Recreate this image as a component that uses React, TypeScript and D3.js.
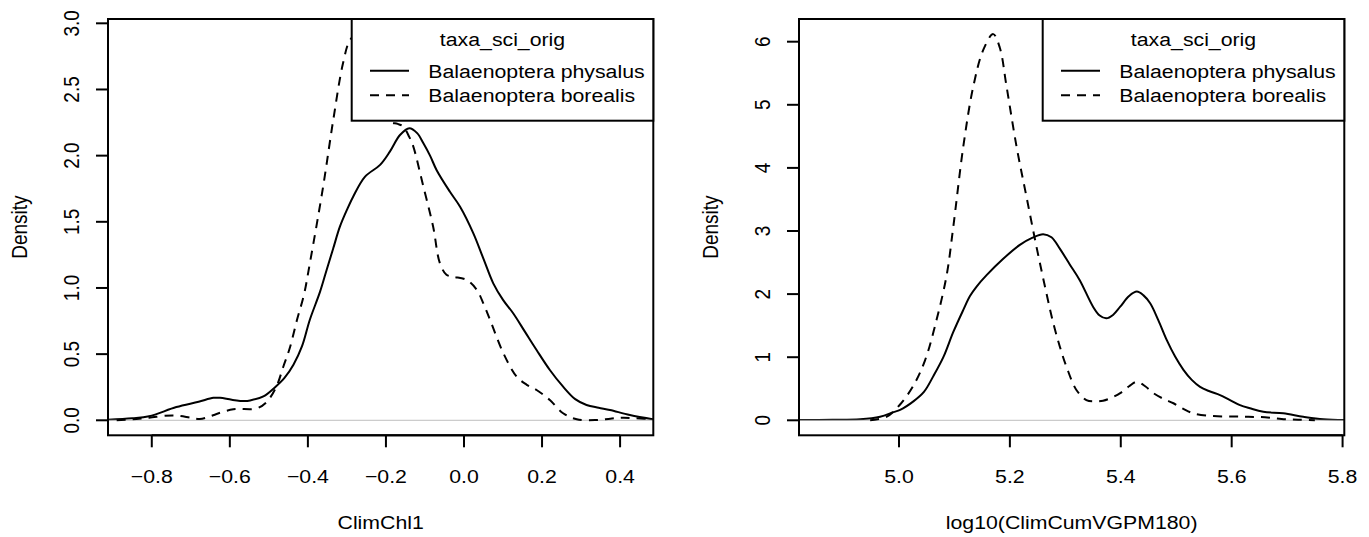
import React from "react";
import * as d3 from "d3";

// ---------- DATA ----------
const legendTitle = "taxa_sci_orig";
const seriesNames = ["Balaenoptera physalus", "Balaenoptera borealis"];

// Panel 1: ClimChl1
const chlPhysalusX = [-0.912, -0.85, -0.807, -0.737, -0.68, -0.642, -0.625, -0.595, -0.561, -0.548, -0.514, -0.484, -0.46, -0.437, -0.415, -0.395, -0.369, -0.352, -0.335, -0.318, -0.3, -0.284, -0.254, -0.215, -0.19, -0.164, -0.14, -0.12, -0.104, -0.087, -0.07, -0.036, -0.01, 0.024, 0.05, 0.075, 0.1, 0.126, 0.156, 0.186, 0.22, 0.254, 0.285, 0.314, 0.345, 0.374, 0.425, 0.49];
const chlPhysalusY = [0.005, 0.015, 0.03, 0.1, 0.14, 0.17, 0.17, 0.155, 0.145, 0.15, 0.18, 0.25, 0.32, 0.42, 0.56, 0.76, 0.97, 1.136, 1.3, 1.463, 1.59, 1.69, 1.84, 1.93, 2.03, 2.156, 2.207, 2.17, 2.093, 2.0, 1.89, 1.727, 1.614, 1.413, 1.22, 1.035, 0.91, 0.809, 0.67, 0.531, 0.38, 0.254, 0.16, 0.116, 0.095, 0.078, 0.04, 0.005];
const chlBorealisX = [-0.89, -0.85, -0.807, -0.745, -0.7, -0.677, -0.655, -0.634, -0.591, -0.531, -0.505, -0.48, -0.463, -0.446, -0.428, -0.41, -0.395, -0.361, -0.335, -0.31, -0.292, -0.27, -0.25, -0.23, -0.21, -0.19, -0.17, -0.156, -0.14, -0.13, -0.104, -0.079, -0.062, -0.045, -0.027, 0.007, 0.033, 0.05, 0.067, 0.101, 0.135, 0.16, 0.186, 0.22, 0.254, 0.289, 0.34, 0.375, 0.408, 0.44, 0.49];
const chlBorealisY = [0.0, 0.008, 0.02, 0.037, 0.02, 0.01, 0.025, 0.048, 0.083, 0.09, 0.14, 0.26, 0.405, 0.55, 0.758, 0.95, 1.186, 1.765, 2.27, 2.698, 2.874, 2.93, 2.9, 2.74, 2.48, 2.26, 2.24, 2.22, 2.14, 2.07, 1.765, 1.463, 1.19, 1.1, 1.085, 1.06, 0.985, 0.88, 0.758, 0.506, 0.33, 0.27, 0.229, 0.153, 0.053, 0.008, 0.002, 0.012, 0.02, 0.015, 0.008];
const chlXTicks = [-0.8, -0.6, -0.4, -0.2, 0.0, 0.2, 0.4];
const chlXTickLabels = ["\u22120.8", "\u22120.6", "\u22120.4", "\u22120.2", "0.0", "0.2", "0.4"];
const chlYTicks = [0, 0.5, 1.0, 1.5, 2.0, 2.5, 3.0];
const chlYTickLabels = ["0.0", "0.5", "1.0", "1.5", "2.0", "2.5", "3.0"];
const chlXLabel = "ClimChl1";

// Panel 2: log10(ClimCumVGPM180)
const vgpmPhysalusX = [4.82, 4.88, 4.93, 4.966, 4.99, 5.002, 5.026, 5.045, 5.062, 5.08, 5.098, 5.116, 5.128, 5.14, 5.158, 5.188, 5.218, 5.24, 5.26, 5.275, 5.29, 5.308, 5.326, 5.35, 5.362, 5.374, 5.386, 5.399, 5.415, 5.429, 5.441, 5.453, 5.468, 5.483, 5.498, 5.513, 5.528, 5.543, 5.56, 5.579, 5.597, 5.615, 5.633, 5.657, 5.693, 5.729, 5.765, 5.81];
const vgpmPhysalusY = [0.005, 0.008, 0.016, 0.057, 0.13, 0.165, 0.3, 0.45, 0.7, 1.0, 1.4, 1.75, 1.97, 2.12, 2.3, 2.56, 2.78, 2.89, 2.95, 2.9, 2.72, 2.47, 2.22, 1.8, 1.66, 1.616, 1.67, 1.8, 1.97, 2.04, 1.98, 1.854, 1.58, 1.27, 1.01, 0.8, 0.64, 0.53, 0.46, 0.4, 0.32, 0.24, 0.19, 0.136, 0.11, 0.057, 0.016, 0.003];
const vgpmBorealisX = [4.948, 4.978, 5.002, 5.026, 5.047, 5.068, 5.086, 5.098, 5.116, 5.134, 5.152, 5.17, 5.182, 5.194, 5.212, 5.23, 5.248, 5.266, 5.278, 5.29, 5.302, 5.32, 5.338, 5.353, 5.368, 5.384, 5.399, 5.415, 5.429, 5.444, 5.459, 5.477, 5.495, 5.513, 5.531, 5.567, 5.603, 5.63, 5.66, 5.69, 5.72, 5.75];
const vgpmBorealisY = [0.0, 0.057, 0.25, 0.55, 0.95, 1.6, 2.3, 3.07, 4.34, 5.29, 5.87, 6.12, 5.9, 5.29, 4.34, 3.54, 2.75, 2.01, 1.55, 1.17, 0.85, 0.48, 0.32, 0.3, 0.31, 0.36, 0.43, 0.54, 0.61, 0.54, 0.43, 0.34, 0.27, 0.18, 0.11, 0.068, 0.06, 0.055, 0.05, 0.02, 0.01, 0.0];
const vgpmXTicks = [5.0, 5.2, 5.4, 5.6, 5.8];
const vgpmXTickLabels = ["5.0", "5.2", "5.4", "5.6", "5.8"];
const vgpmYTicks = [0, 1, 2, 3, 4, 5, 6];
const vgpmYTickLabels = ["0", "1", "2", "3", "4", "5", "6"];
const vgpmXLabel = "log10(ClimCumVGPM180)";

const yLabel = "Density";

// ---------- STYLE ----------
const FONT = "'Liberation Sans', Arial, Helvetica, sans-serif";
const FS = 19;
const SX = 1.12;
const LW = 2;
const DASH = "9 7";

type PanelProps = {
  id: string;
  left: number;
  right: number;
  xDomain: [number, number];
  yDomain: [number, number];
  solidX: number[];
  solidY: number[];
  dashX: number[];
  dashY: number[];
  xTicks: number[];
  xTickLabels: string[];
  yTicks: number[];
  yTickLabels: string[];
  xLabel: string;
};

const TOP = 19;
const BOTTOM = 435.3;

function T({ x, y, rot, anchor, children }: { x: number; y: number; rot?: boolean; anchor?: string; children: React.ReactNode }) {
  return (
    <text
      transform={`translate(${x},${y}) scale(${SX},1)${rot ? " rotate(-90)" : ""}`}
      textAnchor={anchor || "middle"}
      fontFamily={FONT}
      fontSize={FS}
      fill="#000"
    >
      {children}
    </text>
  );
}

function Panel(p: PanelProps) {
  const x = d3.scaleLinear().domain(p.xDomain).range([p.left, p.right]);
  const y = d3.scaleLinear().domain(p.yDomain).range([BOTTOM, TOP]);
  const line = d3
    .line<[number, number]>()
    .x((d) => x(d[0]))
    .y((d) => y(d[1]))
    .curve(d3.curveCatmullRom.alpha(0.5));
  const solid = line(p.solidX.map((v, i) => [v, p.solidY[i]]) as [number, number][]) || "";
  const dashed = line(p.dashX.map((v, i) => [v, p.dashY[i]]) as [number, number][]) || "";
  const clipId = `clip-${p.id}`;
  const lgLeft = p.right - 301.6;
  const lgBottom = 120.7;
  const cx = (p.left + p.right) / 2;
  const cy = (TOP + BOTTOM) / 2;
  return (
    <g>
      <defs>
        <clipPath id={clipId}>
          <rect x={p.left} y={TOP} width={p.right - p.left} height={BOTTOM - TOP} />
        </clipPath>
      </defs>
      <g clipPath={`url(#${clipId})`}>
        <path d={solid} fill="none" stroke="#000" strokeWidth={LW} />
        <line x1={p.left} x2={p.right} y1={y(0)} y2={y(0)} stroke="#bebebe" strokeWidth={1} />
        <path d={dashed} fill="none" stroke="#000" strokeWidth={LW} strokeDasharray={DASH} />
      </g>
      {/* box */}
      <rect x={p.left} y={TOP} width={p.right - p.left} height={BOTTOM - TOP} fill="none" stroke="#000" strokeWidth={2} />
      {/* x axis */}
      <line x1={x(p.xTicks[0])} x2={x(p.xTicks[p.xTicks.length - 1])} y1={BOTTOM} y2={BOTTOM} stroke="#000" strokeWidth={2} />
      {p.xTicks.map((t, i) => (
        <g key={`xt${i}`}>
          <line x1={x(t)} x2={x(t)} y1={BOTTOM} y2={BOTTOM + 12} stroke="#000" strokeWidth={2} />
          <T x={x(t)} y={483}>{p.xTickLabels[i]}</T>
        </g>
      ))}
      {/* y axis */}
      <line x1={p.left} x2={p.left} y1={y(p.yTicks[0])} y2={y(p.yTicks[p.yTicks.length - 1])} stroke="#000" strokeWidth={2} />
      {p.yTicks.map((t, i) => (
        <g key={`yt${i}`}>
          <line x1={p.left - 12} x2={p.left} y1={y(t)} y2={y(t)} stroke="#000" strokeWidth={2} />
          <T x={p.left - 29.5} y={y(t)} rot>{p.yTickLabels[i]}</T>
        </g>
      ))}
      <T x={cx} y={529}>{p.xLabel}</T>
      <T x={p.left - 81} y={cy} rot>{yLabel}</T>
      {/* legend */}
      <rect x={lgLeft} y={TOP} width={p.right - lgLeft} height={lgBottom - TOP} fill="#fff" stroke="#000" strokeWidth={2} />
      <T x={(lgLeft + p.right) / 2} y={45.5}>{legendTitle}</T>
      <line x1={lgLeft + 18.3} x2={lgLeft + 57.3} y1={70.7} y2={70.7} stroke="#000" strokeWidth={LW} />
      <T x={lgLeft + 76.6} y={77.5} anchor="start">{seriesNames[0]}</T>
      <line x1={lgLeft + 18.3} x2={lgLeft + 57.3} y1={95.2} y2={95.2} stroke="#000" strokeWidth={LW} strokeDasharray={DASH} />
      <T x={lgLeft + 76.6} y={102} anchor="start">{seriesNames[1]}</T>
    </g>
  );
}

export default function App() {
  return (
    <svg
      width={1369}
      height={537}
      viewBox="0 0 1369 537"
      style={{ position: "absolute", left: 0, top: 0, background: "#fff" }}
    >
      <rect x={0} y={0} width={1369} height={537} fill="#fff" />
      <Panel
        id="chl"
        left={108}
        right={653.3}
        xDomain={[-0.9122, 0.4851]}
        yDomain={[-0.1134, 3.0326]}
        solidX={chlPhysalusX}
        solidY={chlPhysalusY}
        dashX={chlBorealisX}
        dashY={chlBorealisY}
        xTicks={chlXTicks}
        xTickLabels={chlXTickLabels}
        yTicks={chlYTicks}
        yTickLabels={chlYTickLabels}
        xLabel={chlXLabel}
      />
      <Panel
        id="vgpm"
        left={799}
        right={1344.3}
        xDomain={[4.8197, 5.8031]}
        yDomain={[-0.2377, 6.3597]}
        solidX={vgpmPhysalusX}
        solidY={vgpmPhysalusY}
        dashX={vgpmBorealisX}
        dashY={vgpmBorealisY}
        xTicks={vgpmXTicks}
        xTickLabels={vgpmXTickLabels}
        yTicks={vgpmYTicks}
        yTickLabels={vgpmYTickLabels}
        xLabel={vgpmXLabel}
      />
    </svg>
  );
}
